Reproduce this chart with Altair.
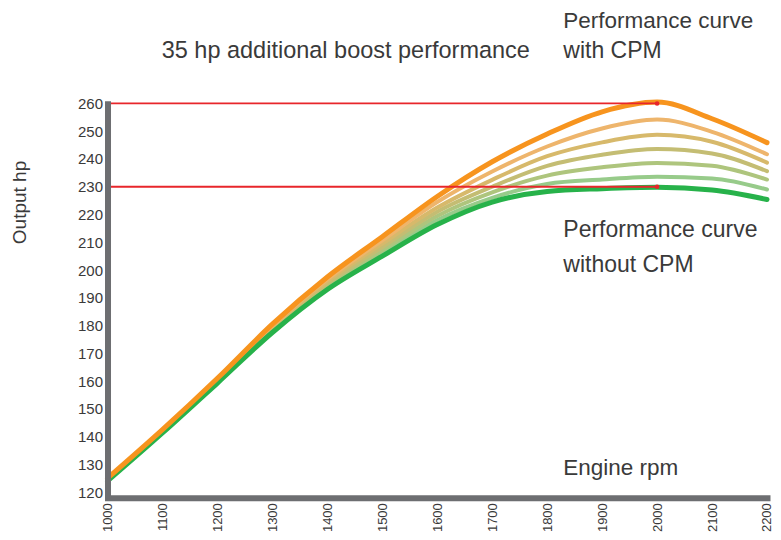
import altair as alt
import pandas as pd

# ---- data ----
rpm = [1000, 1100, 1200, 1300, 1400, 1500, 1600, 1700, 1800, 1900, 2000, 2100, 2200]

hp_without_cpm = [124.0, 141.3, 159.3, 177.5, 193.0, 205.0, 216.4, 224.5, 228.3, 229.3, 229.8, 228.8, 225.4]
hp_step1 = [124.2, 141.5, 159.6, 178.0, 193.7, 206.0, 218.0, 226.0, 231.0, 232.6, 233.6, 233.0, 229.0]
hp_step2 = [124.3, 141.7, 159.9, 178.5, 194.5, 207.2, 219.5, 228.0, 234.0, 237.0, 238.6, 237.6, 232.6]
hp_step3 = [124.5, 141.9, 160.2, 179.0, 195.2, 208.3, 221.0, 230.0, 237.5, 241.5, 243.6, 242.0, 235.6]
hp_step4 = [124.7, 142.1, 160.4, 179.5, 196.0, 209.5, 222.5, 232.5, 241.0, 246.0, 248.7, 246.2, 238.7]
hp_step5 = [124.8, 142.3, 160.7, 180.0, 196.7, 210.7, 224.5, 235.5, 244.5, 251.0, 254.2, 249.8, 241.7]
hp_with_cpm = [125.0, 142.5, 161.0, 180.5, 197.5, 212.0, 226.5, 239.0, 249.0, 257.0, 260.5, 254.5, 245.9]

series_names = ["without CPM", "step 1", "step 2", "step 3", "step 4", "step 5", "with CPM"]
series_values = [hp_without_cpm, hp_step1, hp_step2, hp_step3, hp_step4, hp_step5, hp_with_cpm]
series_colors = ["#27b24a", "#97cb8a", "#aec57d", "#c4bd73", "#d7b96b", "#eeb56c", "#f7941e"]

ref_rpm = 2000
ref_hp = [260, 230]

y_ticks = [120, 130, 140, 150, 160, 170, 180, 190, 200, 210, 220, 230, 240, 250, 260]
x_ticks = [1000, 1100, 1200, 1300, 1400, 1500, 1600, 1700, 1800, 1900, 2000, 2100, 2200]

rows = []
for name, vals in zip(series_names, series_values):
    for r, v in zip(rpm, vals):
        rows.append({"series": name, "rpm": r, "hp": v})
df = pd.DataFrame(rows)

ref_df = pd.DataFrame({"rpm0": [rpm[0]] * len(ref_hp), "rpm": [ref_rpm] * len(ref_hp), "hp": ref_hp})

FONT = "Liberation Sans"
TXT = "#3a3a3a"
AXC = "#6d6e71"

x_scale = alt.Scale(domain=[1000, 2200], nice=False, zero=False)
y_scale = alt.Scale(domain=[118, 261], nice=False, zero=False)
x_axis = alt.Axis(values=x_ticks, format="d", labelAngle=-90, labelFontSize=13,
                  labelFont=FONT, labelColor=TXT, labelPadding=5, labelOverlap=False,
                  domainColor=AXC, domainWidth=6, domainCap="square",
                  ticks=False, grid=False, title=None, zindex=1)
y_axis = alt.Axis(values=y_ticks, format="d", labelFontSize=15,
                  labelFont=FONT, labelColor=TXT, labelPadding=5, labelOverlap=False,
                  domainColor=AXC, domainWidth=6,
                  ticks=False, grid=False, title=None, zindex=1)

x_enc = alt.X("rpm:Q", scale=x_scale, axis=x_axis)
y_enc = alt.Y("hp:Q", scale=y_scale, axis=y_axis)
color_enc = alt.Color("series:N", scale=alt.Scale(domain=series_names, range=series_colors), legend=None)

base = alt.Chart(df).encode(x=x_enc, y=y_enc, color=color_enc, detail="series:N")

mid = base.transform_filter(
    alt.FieldOneOfPredicate(field="series", oneOf=series_names[1:6])
).mark_line(interpolate="monotone", strokeWidth=4, strokeCap="round")

green = base.transform_filter(
    alt.FieldEqualPredicate(field="series", equal="without CPM")
).mark_line(interpolate="monotone", strokeWidth=5, strokeCap="round")

orange = base.transform_filter(
    alt.FieldEqualPredicate(field="series", equal="with CPM")
).mark_line(interpolate="monotone", strokeWidth=5, strokeCap="round")

rules = alt.Chart(ref_df).mark_rule(color="#e8262b", strokeWidth=1.8).encode(
    x=alt.X("rpm0:Q", scale=x_scale, axis=x_axis), x2="rpm:Q",
    y=alt.Y("hp:Q", scale=y_scale, axis=y_axis))
dots = alt.Chart(ref_df).mark_circle(color="#e8262b", size=22, opacity=1).encode(
    x=alt.X("rpm:Q", scale=x_scale, axis=x_axis),
    y=alt.Y("hp:Q", scale=y_scale, axis=y_axis))


def label(text, x, y, size=23, **kw):
    return alt.Chart(pd.DataFrame({"t": [text]})).mark_text(
        font=FONT, fontSize=size, color=TXT, align=kw.pop("align", "left"),
        baseline=kw.pop("baseline", "alphabetic"), **kw
    ).encode(text="t:N", x=alt.value(x), y=alt.value(y))


texts = [
    label("35 hp additional boost performance", 54.2, -42.5, size=23.5),
    label("Performance curve", 455.8, -72.8, size=22.5),
    label("with CPM", 455.8, -42.5),
    label("Performance curve", 455.8, 136.1),
    label("without CPM", 455.8, 171.0),
    label("Engine rpm", 455.8, 374.3, size=22.5),
    label("Output hp", -87.5, 101.8, size=19, align="center", baseline="middle", angle=270),
]

chart = alt.layer(mid, green, orange, rules, dots, *texts).properties(
    width=659.5, height=397,
    autosize=alt.AutoSizeParams(type="none"),
    padding={"left": 99.5, "top": 92.7, "right": 6, "bottom": 34},
    background="white",
).configure_view(stroke=None)

chart.save("out.html", embed_options={"renderer": "svg", "actions": False})
